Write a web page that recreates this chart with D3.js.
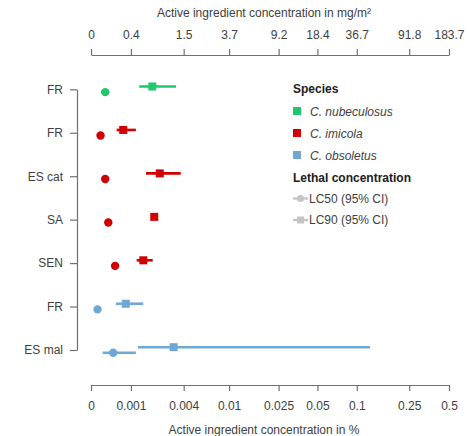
<!DOCTYPE html>
<html>
<head>
<meta charset="utf-8">
<script src="https://cdn.jsdelivr.net/npm/d3@7"></script>
<style>
  html, body { margin: 0; padding: 0; background: #fff; }
  svg { display: block; font-family: "Liberation Sans", Arial, sans-serif; }
  .axis text { fill: #404040; font-size: 12px; }
  .axis path, .axis line { stroke: #707070; stroke-width: 1.2; }
</style>
</head>
<body>
<svg id="chart" width="467" height="436"></svg>
<script>
// Populations (top to bottom) and species
const rowIds    = ["r1", "r2", "r3", "r4", "r5", "r6", "r7"];
const rowLabels = ["FR", "FR", "ES cat", "SA", "SEN", "FR", "ES mal"];
const rowSpecies = ["nub", "imi", "imi", "imi", "imi", "obs", "obs"];

// Lethal concentrations in % active ingredient, with 95% CI
const lc50      = [0.00028, 0.00018, 0.00028, 0.00035, 0.00052, 0.00012, 0.00047];
const lc50Low   = [0.00019, null,    null,    null,    null,    null,    0.000225];
const lc50High  = [0.00037, null,    null,    null,    null,    null,    0.00118];
const lc90      = [0.0019,  0.00075, 0.0023,  0.0020,  0.00148, 0.00083, 0.0032];
const lc90Low   = [0.00131, 0.00056, 0.0016,  null,    0.00121, 0.00054, 0.00126];
const lc90High  = [0.00338, 0.00118, 0.00375, null,    0.00192, 0.00148, 0.126];

// Axis ticks: % on the bottom, matching mg/m² on the top
const pctTicks = [0, 0.001, 0.004, 0.01, 0.025, 0.05, 0.1, 0.25, 0.5];
const mgTicks  = ["0", "0.4", "1.5", "3.7", "9.2", "18.4", "36.7", "91.8", "183.7"];

const speciesKeys   = ["nub", "imi", "obs"];
const speciesNames  = ["C. nubeculosus", "C. imicola", "C. obsoletus"];
const speciesColors = ["#1fc86c", "#d00000", "#6ea8d6"];

const svg = d3.select("#chart");
const color = d3.scaleOrdinal().domain(speciesKeys).range(speciesColors);

// log(x + 0.001) scale so that zero can be shown
const OFFSET = 0.001;
const logScale = d3.scaleLog().domain([OFFSET, 0.5 + OFFSET]).range([91, 449]);
const xPos = v => logScale(v + OFFSET);

const yPos = d3.scalePoint().domain(rowIds).range([89.3, 350]);

// Bottom axis (%)
svg.append("g").attr("class", "axis")
  .attr("transform", "translate(0,385)")
  .call(d3.axisBottom(logScale)
    .tickValues(pctTicks.map(v => v + OFFSET))
    .tickFormat((d, i) => String(pctTicks[i]))
    .tickSize(6).tickSizeOuter(0).tickPadding(10));

// Top axis (mg/m²)
svg.append("g").attr("class", "axis")
  .attr("transform", "translate(0,55)")
  .call(d3.axisTop(logScale)
    .tickValues(pctTicks.map(v => v + OFFSET))
    .tickFormat((d, i) => mgTicks[i])
    .tickSize(6).tickSizeOuter(0).tickPadding(10));

// Left axis (populations)
const leftAxis = svg.append("g").attr("class", "axis")
  .attr("transform", "translate(77,0)")
  .call(d3.axisLeft(yPos)
    .tickFormat((d, i) => rowLabels[i])
    .tickSize(7).tickSizeOuter(0).tickPadding(7));
leftAxis.selectAll("text").style("font-size", "12px");

// Axis titles
svg.append("text").attr("x", 264).attr("y", 17)
  .attr("text-anchor", "middle").attr("fill", "#404040").style("font-size", "12px")
  .text("Active ingredient concentration in mg/m²");
svg.append("text").attr("x", 264).attr("y", 434)
  .attr("text-anchor", "middle").attr("fill", "#404040").style("font-size", "12px")
  .text("Active ingredient concentration in %");

// Marks
const rows = rowIds.map((id, i) => ({
  id, sp: rowSpecies[i],
  lc50: lc50[i], lc50Low: lc50Low[i], lc50High: lc50High[i],
  lc90: lc90[i], lc90Low: lc90Low[i], lc90High: lc90High[i]
}));

const DY = 2.8;
const marks = svg.append("g");

// CI lines
marks.selectAll(".ci50").data(rows.filter(d => d.lc50Low != null)).join("line")
  .attr("x1", d => xPos(d.lc50Low)).attr("x2", d => xPos(d.lc50High))
  .attr("y1", d => yPos(d.id) + DY).attr("y2", d => yPos(d.id) + DY)
  .attr("stroke", d => color(d.sp)).attr("stroke-width", 2.6);
marks.selectAll(".ci90").data(rows.filter(d => d.lc90Low != null)).join("line")
  .attr("x1", d => xPos(d.lc90Low)).attr("x2", d => xPos(d.lc90High))
  .attr("y1", d => yPos(d.id) - DY).attr("y2", d => yPos(d.id) - DY)
  .attr("stroke", d => color(d.sp)).attr("stroke-width", 2.6);

// LC50 circles
marks.selectAll(".p50").data(rows).join("circle")
  .attr("cx", d => xPos(d.lc50)).attr("cy", d => yPos(d.id) + DY).attr("r", 4.2)
  .attr("fill", d => color(d.sp));

// LC90 squares
const SQ = 8;
marks.selectAll(".p90").data(rows).join("rect")
  .attr("x", d => xPos(d.lc90) - SQ / 2).attr("y", d => yPos(d.id) - DY - SQ / 2)
  .attr("width", SQ).attr("height", SQ)
  .attr("fill", d => color(d.sp));

// Legend
const lg = svg.append("g").attr("transform", "translate(293,0)");
lg.append("text").attr("x", 0).attr("y", 93).attr("font-weight", "bold")
  .attr("fill", "#202020").style("font-size", "12px").text("Species");
speciesKeys.forEach((k, i) => {
  const cy = 111 + i * 22;
  lg.append("rect").attr("x", 0).attr("y", cy - 4).attr("width", 8).attr("height", 8)
    .attr("fill", speciesColors[i]);
  lg.append("text").attr("x", 17).attr("y", cy + 4.5).attr("font-style", "italic")
    .attr("fill", "#404040").style("font-size", "12px").text(speciesNames[i]);
});
lg.append("text").attr("x", 0).attr("y", 181.5).attr("font-weight", "bold")
  .attr("fill", "#202020").style("font-size", "12px").text("Lethal concentration");

const lcLegend = ["LC50 (95% CI)", "LC90 (95% CI)"];
lcLegend.forEach((t, i) => {
  const cy = 198.5 + i * 21.5;
  lg.append("line").attr("x1", 0).attr("x2", 15).attr("y1", cy).attr("y2", cy)
    .attr("stroke", "#c4c4c4").attr("stroke-width", 2.4);
  if (i === 0) {
    lg.append("circle").attr("cx", 7.5).attr("cy", cy).attr("r", 3.6).attr("fill", "#c4c4c4");
  } else {
    lg.append("rect").attr("x", 4).attr("y", cy - 3.5).attr("width", 7).attr("height", 7).attr("fill", "#c4c4c4");
  }
  lg.append("text").attr("x", 16).attr("y", cy + 4.3)
    .attr("fill", "#404040").style("font-size", "12px").text(t);
});
</script>
</body>
</html>
